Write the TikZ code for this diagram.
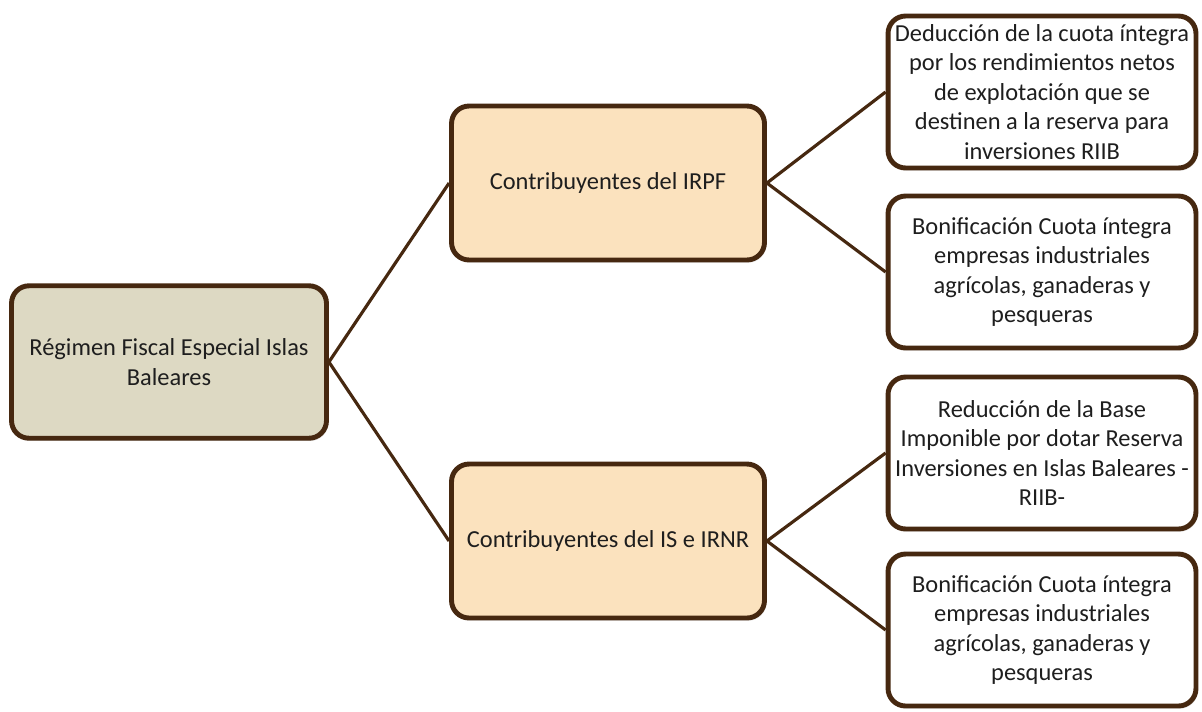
\documentclass[tikz,border=0pt]{standalone}
\usepackage{fontspec}
\setmainfont{Carlito}
\usetikzlibrary{shadows}

\definecolor{marron}{RGB}{70,40,16}
\definecolor{gris}{RGB}{221,217,195}
\definecolor{melocoton}{RGB}{251,226,190}
\definecolor{texto}{RGB}{30,30,30}

\begin{document}
\begin{tikzpicture}[x=0.02cm,y=-0.02cm,
	caja/.style={draw=marron, line width=2.8pt, rounded corners=0.35cm,
		align=center, text=texto, inner sep=0pt,
		font=\fontsize{13.9}{16.8}\selectfont,
		drop shadow={opacity=0.2, shadow xshift=1pt, shadow yshift=-1.5pt}},
	raiz/.style={caja, fill=gris, minimum width=6.3cm, minimum height=3.05cm},
	medio/.style={caja, fill=melocoton, minimum width=6.26cm, minimum height=3.08cm},
	hoja/.style={caja, fill=white, minimum width=6.16cm, minimum height=3.04cm},
	conector/.style={draw=marron, line width=1.8pt}]

	\useasboundingbox (0,0) rectangle (1202,711);

	\node[raiz] (regimen) at (169,362) {Régimen Fiscal Especial Islas\\Baleares};

	\node[medio] (irpf) at (608,183) {Contribuyentes del IRPF};
	\node[medio] (isirnr) at (608,541) {Contribuyentes del IS e IRNR};

	\node[hoja] (deduccion) at (1042,92) {Deducción de la cuota íntegra\\por los rendimientos netos\\de explotación que se\\destinen a la reserva para\\inversiones RIIB};
	\node[hoja] (bonifA) at (1042,272) {Bonificación Cuota íntegra\\empresas industriales\\agrícolas, ganaderas y\\pesqueras};
	\node[hoja] (reduccion) at (1042,453) {Reducción de la Base\\Imponible por dotar Reserva\\Inversiones en Islas Baleares -\\RIIB-};
	\node[hoja] (bonifB) at (1042,630) {Bonificación Cuota íntegra\\empresas industriales\\agrícolas, ganaderas y\\pesqueras};

	\draw[conector] (regimen.east) -- (irpf.west);
	\draw[conector] (regimen.east) -- (isirnr.west);

	\draw[conector] (irpf.east) -- (deduccion.west);
	\draw[conector] (irpf.east) -- (bonifA.west);
	\draw[conector] (isirnr.east) -- (reduccion.west);
	\draw[conector] (isirnr.east) -- (bonifB.west);

\end{tikzpicture}
\end{document}
